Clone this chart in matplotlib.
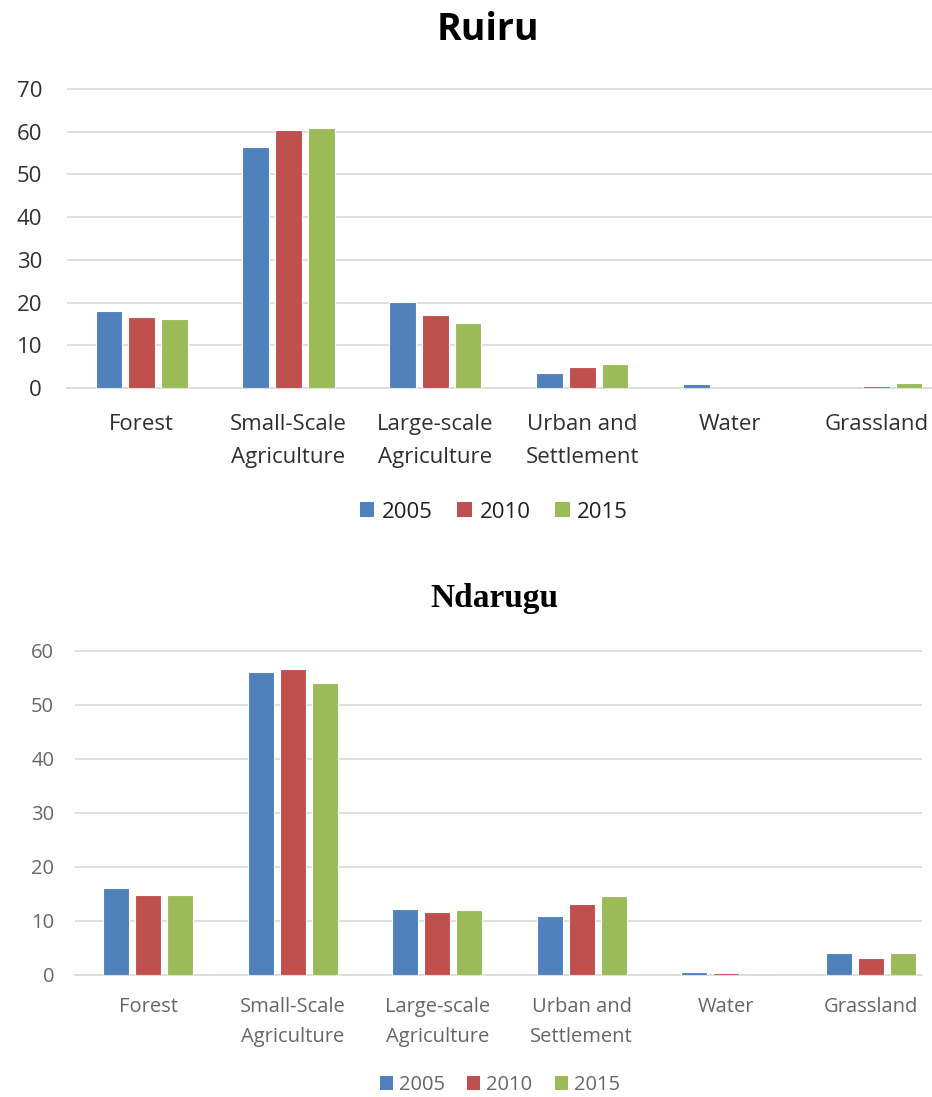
import numpy as np
import matplotlib
matplotlib.use("Agg")
import matplotlib.pyplot as plt
from matplotlib.patches import Patch

# land cover share (%) per class, for each sub-catchment and year
categories = ["Forest", "Small-Scale\nAgriculture", "Large-scale\nAgriculture",
              "Urban and\nSettlement", "Water", "Grassland"]
years = ["2005", "2010", "2015"]

ruiru_2005 = [18.0, 56.4, 20.1, 3.6, 0.9, 0.0]
ruiru_2010 = [16.5, 60.3, 17.1, 4.8, 0.0, 0.4]
ruiru_2015 = [16.2, 60.9, 15.3, 5.7, 0.0, 1.2]

ndarugu_2005 = [16.2, 56.1, 12.2, 11.0, 0.55, 4.1]
ndarugu_2010 = [14.8, 56.6, 11.7, 13.2, 0.35, 3.2]
ndarugu_2015 = [14.8, 54.0, 12.0, 14.6, 0.0, 4.1]

colors = ["#4F81BD", "#C0504D", "#9BBB59"]
grid_color = "#D9D9D9"

W, H = 932, 1097
fig = plt.figure(figsize=(W / 100, H / 100), dpi=100)


def px_axes(left, right, top, bottom):
    """axes placed by pixel edges"""
    return fig.add_axes([left / W, 1 - bottom / H, (right - left) / W, (bottom - top) / H])


def draw_panel(ax, series, ymax, ystep, xlim, pitch, width, font, fsize, tcolor,
               pad_y, pad_x, spacing):
    x = np.arange(len(categories))
    for i, vals in enumerate(series):
        ax.bar(x + (i - 1) * pitch, vals, width, color=colors[i],
               edgecolor="white", linewidth=0.8, zorder=3)
    ax.set_xlim(*xlim)
    ax.set_ylim(0, ymax * 1.003)
    ax.set_yticks(np.arange(0, ymax + 1, ystep))
    ax.set_xticks(x)
    ax.set_xticklabels(categories, fontfamily=font, fontsize=fsize, color=tcolor,
                       linespacing=spacing, va="top")
    for lab in ax.get_yticklabels():
        lab.set_fontfamily(font)
        lab.set_fontsize(fsize)
        lab.set_color(tcolor)
    ax.tick_params(axis="both", length=0)
    ax.tick_params(axis="y", pad=pad_y)
    ax.tick_params(axis="x", pad=pad_x)
    ax.grid(axis="y", color=grid_color, linewidth=1.2, zorder=0)
    for s in ["top", "right", "left"]:
        ax.spines[s].set_visible(False)
    ax.spines["bottom"].set_color(grid_color)
    ax.spines["bottom"].set_linewidth(1.2)
    ax.set_facecolor("none")


# Ruiru panel
ax1 = px_axes(67, 932, 88, 388)
draw_panel(ax1, [ruiru_2005, ruiru_2010, ruiru_2015], 70, 10,
           (-0.507, 5.378), 0.224, 0.178, "Open Sans", 16, "#303030", 18, 19, 1.7)
fig.text(488 / W, 1 - 30 / H, "Ruiru", ha="center", va="center",
         fontfamily="Open Sans", fontweight="bold", fontsize=27, color="black")

# Ndarugu panel
ax2 = px_axes(75, 922, 650, 975)
draw_panel(ax2, [ndarugu_2005, ndarugu_2010, ndarugu_2015], 60, 10,
           (-0.505, 5.353), 0.221, 0.18, "Open Sans", 14.5, "#666666", 15, 16, 1.65)
fig.text(494 / W, 1 - 598 / H, "Ndarugu", ha="center", va="center",
         fontfamily="Liberation Serif", fontweight="bold", fontsize=24, color="black")

handles = [Patch(facecolor=c, edgecolor="none") for c in colors]
fig.legend(handles, years, loc="center", bbox_to_anchor=(494 / W, 1 - 512 / H),
           ncol=3, frameon=False, prop={"family": "Open Sans", "size": 16},
           labelcolor="#202020", handlelength=0.65, handleheight=0.65,
           handletextpad=0.35, columnspacing=1.1)
fig.legend(handles, years, loc="center", bbox_to_anchor=(500 / W, 1 - 1085 / H),
           ncol=3, frameon=False, prop={"family": "Open Sans", "size": 14.5},
           labelcolor="#666666", handlelength=0.65, handleheight=0.65,
           handletextpad=0.3, columnspacing=1.1)

fig.savefig("out.png", dpi=100, facecolor="white")
